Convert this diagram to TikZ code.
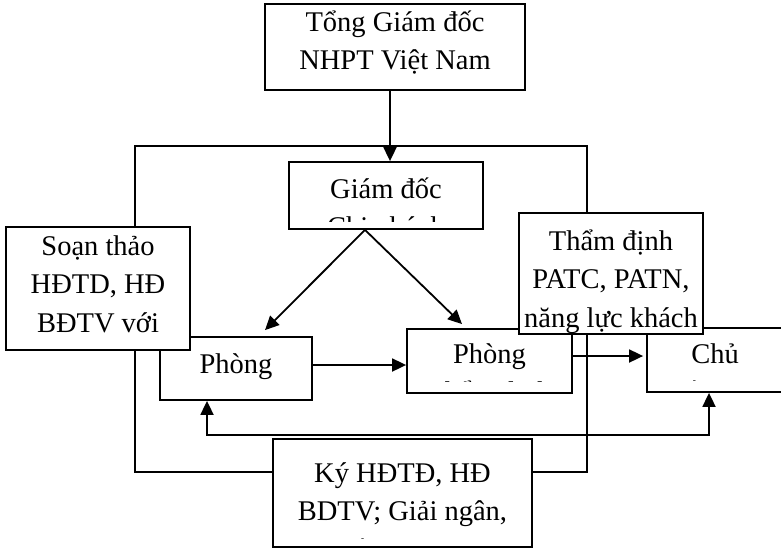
\documentclass[tikz,border=0pt]{standalone}
\usepackage{fontspec}
\setmainfont{Liberation Serif}
\usetikzlibrary{arrows.meta,calc}
\tikzset{
  blk/.style={draw, fill=white, line width=1.8pt, inner sep=0pt},
  lbl/.style={anchor=base, inner sep=0pt, font=\fontsize{28.5}{38.5}\selectfont},
  wire/.style={line width=1.8pt},
  arr/.style={line width=1.8pt, -{Triangle[length=14pt,width=13pt]}},
  dbl/.style={line width=1.8pt, {Triangle[length=14pt,width=13pt]}-{Triangle[length=14pt,width=13pt]}}
}
\newcommand\lns[1]{\begin{tabular}[t]{@{}c@{}}#1\end{tabular}}
% text of a box, cut at the inner bottom margin
\newcommand\boxtext[4][10]{%
  \begin{scope}
    \clip ($(#2.south west)+(0,-#1)$) rectangle (#2.north east);
    \node[lbl] at (#3) {\lns{#4}};
  \end{scope}}

\begin{document}
\begin{tikzpicture}[x=1pt, y=-1pt]
\useasboundingbox (0,0) rectangle (781,549);
\node[blk, minimum width=260, minimum height=86] (tgd) at (395,47) {};
\node[lbl] at (395,31) {\lns{Tổng Giám đốc\\NHPT Việt Nam}};
\node[blk, minimum width=194, minimum height=67] (gd) at (386,195.5) {};
\boxtext[8]{gd}{386,198}{Giám đốc\\Chi nhánh}
\node[blk, minimum width=152, minimum height=63] (phong1) at (236,368.5) {};
\node[lbl] at (236,373) {Phòng};
\node[blk, minimum width=165, minimum height=64] (phong2) at (489.5,361) {};
\boxtext[12]{phong2}{489.5,363}{Phòng\\Thẩm định}
\node[blk, minimum width=136, minimum height=64] (chu) at (715,360) {};
\boxtext[12]{chu}{715,363}{Chủ\\đầu tư}
\node[blk, minimum width=184, minimum height=123] (soan) at (98,288.5) {};
\boxtext[2]{soan}{98,255}{Soạn thảo\\HĐTD, HĐ\\BĐTV với\\chủ đầu tư}
\node[blk, minimum width=184, minimum height=121] (tham) at (611,273.5) {};
\node[lbl] at (611,250) {\lns{Thẩm định\\PATC, PATN,\\năng lực khách}};
\node[blk, minimum width=259, minimum height=108] (ky) at (402.5,493) {};
\boxtext[9]{ky}{402.5,482}{Ký HĐTĐ, HĐ\\BDTV; Giải ngân,\\thu hồi nợ vay và}

\draw[arr] (tgd.south -| 390,0) -- (gd.north -| 390,0);
\draw[wire] (soan.north -| 135,0) -- ++(0,-80) -| (tham.north -| 587,0);
\draw[wire] (soan.south -| 135,0) |- (ky.west |- 0,472);
\draw[wire] (ky.east |- 0,472) -| (tham.south -| 587,0);
\draw[arr] (gd.south -| 365,0) -- ($(phong1.north -| 265,0)+(0,-6)$);
\draw[arr] (gd.south -| 365,0) -- ($(phong2.north -| 462,0)+(0,-4)$);
\draw[arr] (phong1.east |- 0,365) -- (phong2.west |- 0,365);
\draw[arr] (phong2.east |- 0,356) -- ($(chu.west |- 0,356)+(-3,0)$);
\draw[dbl] (phong1.south -| 207,0) -- (207,435) -- (709,435) -- (chu.south -| 709,0);
\end{tikzpicture}
\end{document}
